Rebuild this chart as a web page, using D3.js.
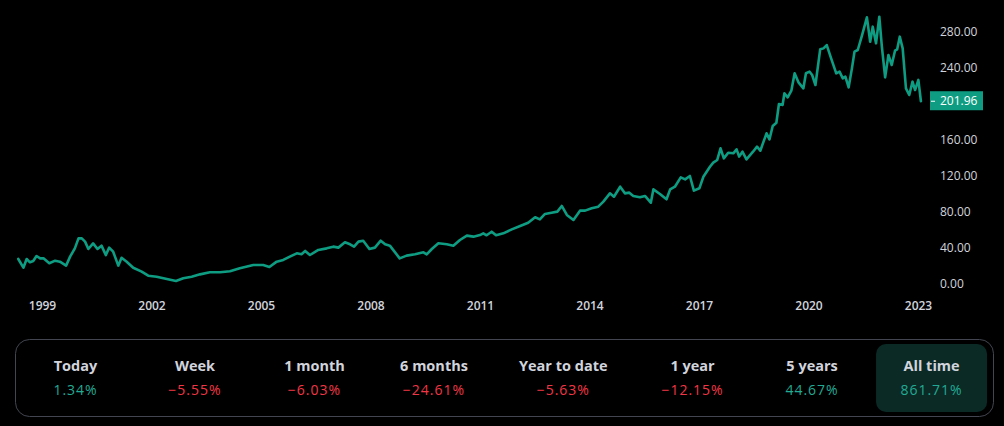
<!DOCTYPE html>
<html><head><meta charset="utf-8">
<script src="https://cdn.jsdelivr.net/npm/d3@7"></script>
<style>
html,body{margin:0;padding:0;background:#000;overflow:hidden;}
svg{display:block;}
</style></head>
<body>
<svg id="chart" width="1004" height="426"></svg>
<script>
// ---- data ----
const years = [1998.35,1998.49,1998.58,1998.67,1998.76,1998.85,1998.95,1999.04,1999.2,1999.36,1999.49,1999.66,1999.77,1999.9,2000.0,2000.09,2000.18,2000.27,2000.4,2000.52,2000.63,2000.75,2000.84,2000.95,2001.09,2001.18,2001.32,2001.5,2001.73,2001.91,2002.14,2002.42,2002.67,2002.87,2003.1,2003.33,2003.6,2003.88,2004.15,2004.42,2004.79,2005.06,2005.23,2005.43,2005.61,2005.79,2005.98,2006.11,2006.21,2006.34,2006.57,2006.8,2006.98,2007.12,2007.3,2007.44,2007.55,2007.67,2007.8,2007.97,2008.12,2008.28,2008.4,2008.53,2008.8,2008.99,2009.22,2009.45,2009.54,2009.68,2009.86,2010.09,2010.27,2010.45,2010.64,2010.82,2011.0,2011.09,2011.18,2011.32,2011.44,2011.64,2011.87,2012.1,2012.32,2012.51,2012.64,2012.78,2012.96,2013.12,2013.24,2013.38,2013.56,2013.74,2013.88,2014.06,2014.24,2014.38,2014.56,2014.67,2014.84,2014.97,2015.09,2015.2,2015.38,2015.52,2015.68,2015.75,2015.93,2016.11,2016.21,2016.34,2016.5,2016.62,2016.75,2016.86,2017.01,2017.12,2017.3,2017.39,2017.5,2017.59,2017.68,2017.8,2017.94,2018.03,2018.1,2018.19,2018.3,2018.48,2018.59,2018.68,2018.85,2018.93,2019.02,2019.12,2019.19,2019.29,2019.34,2019.43,2019.53,2019.62,2019.73,2019.86,2019.93,2020.03,2020.1,2020.19,2020.32,2020.41,2020.5,2020.62,2020.76,2020.85,2020.94,2021.01,2021.1,2021.19,2021.26,2021.35,2021.47,2021.6,2021.69,2021.76,2021.85,2021.94,2022.01,2022.1,2022.19,2022.28,2022.37,2022.43,2022.5,2022.58,2022.67,2022.76,2022.85,2022.92,2023.01,2023.08];
const prices = [26.7,17,26.7,23,24.4,30,27.4,27.4,21.9,24.8,23.7,19.3,29.3,38.5,49.6,49.6,46,37.8,44,37.8,41.5,31,39.3,34.8,19.3,28,23.7,17,12.6,8.1,7,4.4,2.2,5.2,7,9.6,11.9,11.9,13,16.5,20,20,17.8,23.7,25.6,29.3,33,31.9,35.6,31.1,36.7,38.5,40.4,39.3,45.2,43,40.4,46,47,37.8,39.3,47,43,41.5,27.4,30.4,31.9,34.1,31.9,37.8,44.1,43,41.5,47.8,52.6,51.5,53.3,55.2,53,57,53,55.2,59.6,63.3,67,73,70.7,76.7,78.1,79.3,85.6,75.6,70,80.4,80.4,83,84.8,90.4,99.6,95.9,107,99.6,100.4,96.7,95.2,96.7,89.2,104,98.9,93,104,107,117.4,115.2,118.9,102.6,105.2,118.1,129.2,133.7,136.7,149.6,138.5,144.8,144.1,148.5,140.4,145.9,137.4,145.9,151.5,147,166.3,159.6,174.4,178.1,198.9,197.8,210.8,206.3,213.7,233,222.6,216.3,233,234.8,231.1,220,259.6,260.7,264.4,249.6,233,234.8,227.4,229.2,217.4,238.5,257,258.9,275.6,295.2,268.1,284.8,266.3,295.9,262.6,228.5,253.3,242.2,258.1,259.6,273.7,260.7,216.3,208.9,223.7,214.4,225.6,201.96];
const xTickYears = [1999,2002,2005,2008,2011,2014,2017,2020,2023];
const yTickValues = [0,40,80,120,160,200,240,280];
const lastPrice = 201.96;
const periods = ["Today","Week","1 month","6 months","Year to date","1 year","5 years","All time"];
const changes = [1.34,-5.55,-6.03,-24.61,-5.63,-12.15,44.67,861.71];
const activePeriod = "All time";

// ---- styles ----
const GREEN = "#0e9d82";
const UP = "#22ab94";
const DOWN = "#f23645";
const TEXT = "#d1d4dc";
const FONT = "'Open Sans', 'Noto Sans', sans-serif";

const svg = d3.select("#chart");
const x = d3.scaleLinear().domain([1999, 2023]).range([42, 918]);
const y = d3.scaleLinear().domain([0, 280]).range([283, 31]);

// y axis labels (skip 200 which is covered by the price label)
const yAxis = d3.axisRight(y).tickValues(yTickValues.filter(v => v !== 200))
  .tickFormat(d3.format(".2f")).tickSize(0).tickPadding(0);
const gy = svg.append("g").attr("transform", "translate(940,0)").call(yAxis);
gy.select(".domain").remove();
gy.selectAll("text").attr("fill", TEXT).style("font-family", FONT).style("font-size", "12px").attr("dy", "0.35em");

// x axis labels
const xAxis = d3.axisBottom(x).tickValues(xTickYears).tickFormat(d3.format("d")).tickSize(0).tickPadding(0);
const gx = svg.append("g").attr("transform", "translate(0,306)").call(xAxis);
gx.select(".domain").remove();
gx.selectAll("text").attr("fill", TEXT).style("font-family", FONT).style("font-size", "12px").style("font-weight", "600").attr("dy", "0.35em");

// line
const pts = years.map((t, i) => [t, prices[i]]);
svg.append("path").datum(pts)
  .attr("fill", "none").attr("stroke", GREEN).attr("stroke-width", 2.6)
  .attr("stroke-linejoin", "round").attr("stroke-linecap", "round")
  .attr("d", d3.line().x(d => x(d[0])).y(d => y(d[1])));

// price label
const py = y(lastPrice);
svg.append("rect").attr("x", 930).attr("y", py - 10).attr("width", 53).attr("height", 19).attr("fill", GREEN);
svg.append("line").attr("x1", 931).attr("x2", 935).attr("y1", py).attr("y2", py).attr("stroke", "#fff").attr("stroke-width", 1);
svg.append("text").attr("x", 940).attr("y", py).attr("dy", "0.35em").attr("fill", "#fff")
  .style("font-family", FONT).style("font-size", "12px").text(d3.format(".2f")(lastPrice));

// bottom panel
svg.append("rect").attr("x", 15.5).attr("y", 339.5).attr("width", 978).attr("height", 77).attr("rx", 14)
  .attr("fill", "none").attr("stroke", "#434651").attr("stroke-width", 1);

const panel = svg.append("g");
const cells = panel.selectAll("g.cell").data(periods.map((p, i) => ({p, v: changes[i]}))).join("g").attr("class", "cell");
const bg = cells.append("rect").attr("fill", d => d.p === activePeriod ? "#0b2a26" : "none").attr("rx", 10);
const t1 = cells.append("text").attr("text-anchor", "middle").attr("y", 366).attr("dy", "0.35em")
  .attr("fill", TEXT).style("font-family", FONT).style("font-size", "14.5px").style("font-weight", "700").text(d => d.p);
const t2 = cells.append("text").attr("text-anchor", "middle").attr("y", 390).attr("dy", "0.35em")
  .attr("fill", d => d.v >= 0 ? UP : DOWN).style("font-family", FONT).style("font-size", "14px").style("letter-spacing", "1px")
  .text(d => d3.format(".2f")(d.v).replace("-", "\u2212") + "%");
// layout: width = max(minW, content + padding)
const widths = [];
cells.each(function() {
  const g = d3.select(this);
  const w = Math.max(g.select("text").node().getComputedTextLength(), g.selectAll("text").nodes()[1].getComputedTextLength());
  widths.push(Math.max(111, w + 42));
});
let cx = 20;
cells.each(function(d, i) {
  const g = d3.select(this);
  const w = widths[i];
  g.attr("transform", `translate(${cx + w / 2},0)`);
  g.select("rect").attr("x", -w / 2).attr("y", 344).attr("width", w).attr("height", 68);
  cx += w + 8.5;
});
</script>
</body></html>
